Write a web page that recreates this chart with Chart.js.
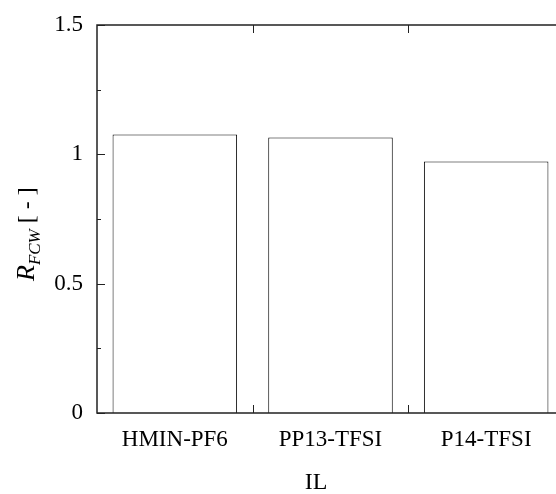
<!DOCTYPE html>
<html>
<head>
<meta charset="utf-8">
<script src="https://cdn.jsdelivr.net/npm/chart.js@4/dist/chart.umd.min.js"></script>
<style>
  html, body { margin: 0; padding: 0; background: #fff; overflow: hidden; }
  #wrap { width: 570px; height: 494px; }
</style>
</head>
<body>
<div id="wrap"><canvas id="grafico" width="570" height="494"></canvas></div>
<script>
// dados
const categorias = ['HMIN-PF6', 'PP13-TFSI', 'P14-TFSI'];
const valoresRFCW = [1.077, 1.065, 0.972];
const ticksY = [0, 0.5, 1, 1.5];
const ticksMenoresY = [0.25, 0.75, 1.25];

const fonteSerif = "'Liberation Serif', 'Times New Roman', serif";

// moldura, ticks internos e rotulos dos eixos
const moldura = {
  id: 'moldura',
  afterDraw(chart) {
    const { ctx, chartArea: a, scales } = chart;
    const y = scales.y, x = scales.x;
    ctx.save();
    ctx.strokeStyle = '#222';
    ctx.lineWidth = 1.5;
    ctx.beginPath();
    ctx.moveTo(a.right, a.top);
    ctx.lineTo(a.left, a.top);
    ctx.lineTo(a.left, a.bottom);
    ctx.lineTo(a.right, a.bottom);
    ctx.stroke();

    ctx.lineWidth = 1;
    ctx.beginPath();
    ticksY.forEach(v => {
      const py = Math.round(y.getPixelForValue(v)) + 0.5;
      ctx.moveTo(a.left, py); ctx.lineTo(a.left + 8, py);
    });
    ticksMenoresY.forEach(v => {
      const py = Math.round(y.getPixelForValue(v)) + 0.5;
      ctx.moveTo(a.left, py); ctx.lineTo(a.left + 4, py);
    });
    // divisoes entre categorias
    for (let i = 1; i < categorias.length; i++) {
      const px = Math.round((x.getPixelForValue(i - 1) + x.getPixelForValue(i)) / 2) + 0.5;
      ctx.moveTo(px, a.top); ctx.lineTo(px, a.top + 8);
      ctx.moveTo(px, a.bottom); ctx.lineTo(px, a.bottom - 8);
    }
    ctx.stroke();

    // titulo eixo x
    ctx.fillStyle = '#000';
    ctx.font = '24px ' + fonteSerif;
    ctx.textAlign = 'center';
    ctx.textBaseline = 'alphabetic';
    ctx.fillText('IL', 316, 489);

    // titulo eixo y: R_FCW [ - ]
    ctx.translate(34, 281);
    ctx.rotate(-Math.PI / 2);
    ctx.textAlign = 'left';
    ctx.font = 'italic 26px ' + fonteSerif;
    ctx.fillText('R', 0, 0);
    let u = ctx.measureText('R').width;
    ctx.font = 'italic 17px ' + fonteSerif;
    ctx.fillText('FCW', u, 6);
    u += ctx.measureText('FCW').width;
    ctx.font = '24px ' + fonteSerif;
    ctx.fillText(' [ - ]', u, 0);
    ctx.restore();
  }
};

new Chart(document.getElementById('grafico'), {
  type: 'bar',
  data: {
    labels: categorias,
    datasets: [{
      data: valoresRFCW,
      backgroundColor: '#fff',
      borderColor: '#000',
      borderWidth: 1,
      categoryPercentage: 1,
      barPercentage: 0.8
    }]
  },
  options: {
    responsive: false,
    animation: false,
    layout: { padding: { top: 25, right: 6, left: 0, bottom: 0 } },
    plugins: { legend: { display: false }, tooltip: { enabled: false } },
    scales: {
      x: {
        grid: { display: false, drawTicks: false },
        border: { display: false },
        ticks: { color: '#000', font: { family: fonteSerif, size: 23 }, padding: 13, maxRotation: 0 },
        afterFit(s) { s.height = 81; s.paddingLeft = 0; s.paddingRight = 0; }
      },
      y: {
        min: 0, max: 1.5,
        grid: { display: false, drawTicks: false },
        border: { display: false },
        ticks: {
          stepSize: 0.5,
          color: '#000',
          font: { family: fonteSerif, size: 23 },
          padding: 14,
          callback: v => String(v)
        },
        afterFit(s) { s.width = 97; s.paddingTop = 0; s.paddingBottom = 0; }
      }
    }
  },
  plugins: [moldura]
});
</script>
</body>
</html>
